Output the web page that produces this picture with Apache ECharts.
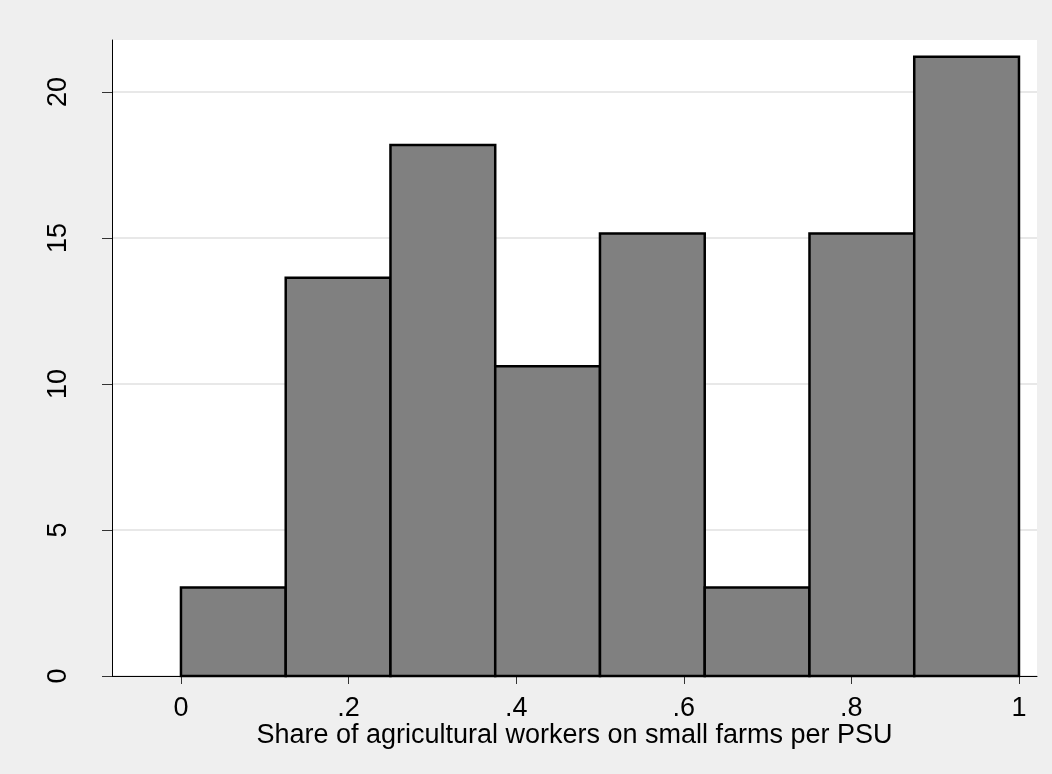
<!DOCTYPE html>
<html lang="en" style="height: 100%">

<head>
  <meta charset="UTF-8" />
  <title>Share of agricultural workers on small farms</title>
  <script src="https://cdn.jsdelivr.net/npm/echarts@6/dist/echarts.min.js"></script>
</head>

<body style="height: 100%; margin: 0; background: #efefef">
  <div id="main" style="width: 1052px; height: 774px"></div>
  <script type="text/javascript">
    // histogram bins (share per PSU) and their density
    var binEdges = [0, 0.125, 0.25, 0.375, 0.5, 0.625, 0.75, 0.875, 1];
    var density = [3.03, 13.64, 18.18, 10.61, 15.15, 3.03, 15.15, 21.21];
    var xTicks = [0, 0.2, 0.4, 0.6, 0.8, 1];
    var xTickLabels = ['0', '.2', '.4', '.6', '.8', '1'];
    var yTicks = [0, 5, 10, 15, 20];
    var xTitle = 'Share of agricultural workers on small farms per PSU';

    var bars = [];
    for (var i = 0; i < density.length; i++) {
      bars.push([binEdges[i], binEdges[i + 1], density[i]]);
    }

    var myChart = echarts.init(document.getElementById('main'));
    var font = 'Liberation Sans, Arial, sans-serif';

    var option = {
      backgroundColor: '#efefef',
      animation: false,
      grid: {
        left: 112, right: 15, top: 40, bottom: 98,
        show: true, backgroundColor: '#ffffff', borderWidth: 0
      },
      xAxis: {
        type: 'value',
        min: -0.0823,
        max: 1.0215,
        name: xTitle,
        nameLocation: 'middle',
        nameGap: 46,
        nameMoveOverlap: false,
        nameTextStyle: { color: '#000', fontSize: 27, fontFamily: font },
        axisLine: { show: true, onZero: false, lineStyle: { color: '#000', width: 1 } },
        axisTick: { show: true, length: 8, customValues: xTicks, lineStyle: { color: '#333' } },
        axisLabel: {
          customValues: xTicks,
          margin: 19,
          color: '#000', fontSize: 27, fontFamily: font,
          formatter: function (v) {
            var k = xTicks.indexOf(v);
            return k >= 0 ? xTickLabels[k] : '';
          }
        },
        splitLine: { show: false }
      },
      yAxis: {
        type: 'value',
        min: 0,
        max: 21.78,
        axisLine: { show: true, onZero: false, lineStyle: { color: '#000', width: 1 } },
        axisTick: { show: true, length: 10, customValues: yTicks, lineStyle: { color: '#333' } },
        axisLabel: {
          customValues: yTicks,
          rotate: 90,
          margin: 40,
          color: '#000', fontSize: 27, fontFamily: font
        },
        splitLine: { show: true, lineStyle: { color: '#e8e8e8', width: 2 } }
      },
      series: [{
        type: 'custom',
        data: bars,
        renderItem: function (params, api) {
          var p0 = api.coord([api.value(0), api.value(2)]);
          var p1 = api.coord([api.value(1), 0]);
          return {
            type: 'rect',
            shape: { x: p0[0], y: p0[1], width: p1[0] - p0[0], height: p1[1] - p0[1] },
            style: { fill: '#808080', stroke: '#000', lineWidth: 2.5 }
          };
        }
      }]
    };

    myChart.setOption(option);
    window.addEventListener('resize', myChart.resize);
  </script>
</body>

</html>
